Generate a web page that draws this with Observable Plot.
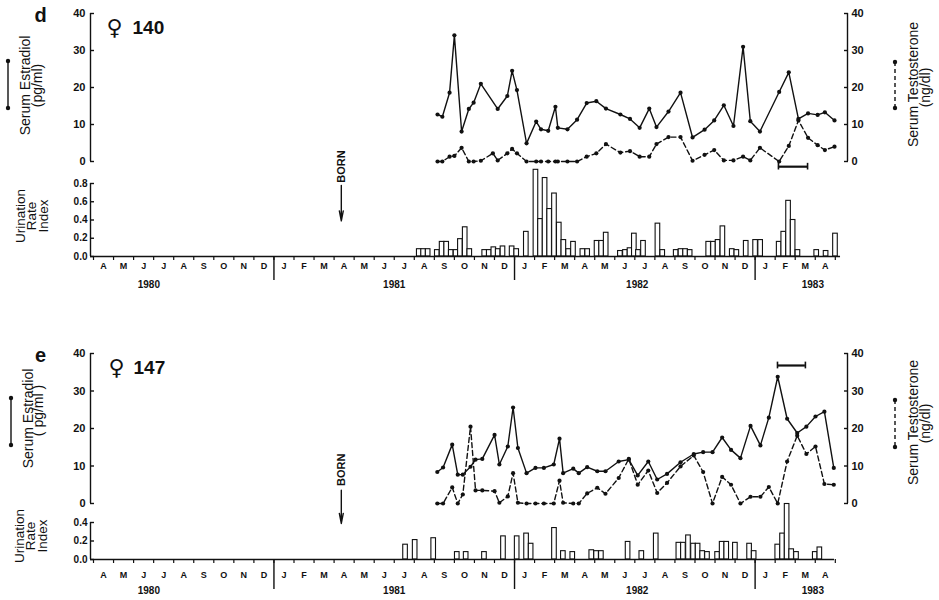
<!DOCTYPE html>
<html>
<head>
<meta charset="utf-8">
<script src="https://cdn.jsdelivr.net/npm/d3@7"></script>
<script src="https://cdn.jsdelivr.net/npm/@observablehq/plot@0.6"></script>
<style>
  body { margin: 0; background: #fff; }
  #wrap { position: relative; width: 939px; height: 600px; overflow: hidden; background: #fff; }
</style>
</head>
<body>
<div id="wrap"></div>
<script>
// ---------------- DATA ----------------
// Month letters on the time axis, April 1980 .. April 1983
const months = ["A","M","J","J","A","S","O","N","D","J","F","M","A","M","J","J","A","S","O","N","D",
                "J","F","M","A","M","J","J","A","S","O","N","D","J","F","M","A"];
const firstMonth = 1980.25;              // April 1980, decimal year
const yearLabels = ["1980", "1981", "1982", "1983"];
const yearLabelPos = [1980.48, 1981.5, 1982.51, 1983.24];
const yearBreaks = [1981, 1982, 1983];
const hormoneTicks = [0, 10, 20, 30, 40];
const birthDate = 1981.28;

// Panel d : female 140
const d_sampleDates = [1981.68,1981.70,1981.73,1981.75,1981.78,1981.81,1981.83,1981.86,1981.91,1981.93,
  1981.97,1981.99,1982.01,1982.05,1982.09,1982.11,1982.14,1982.17,1982.18,1982.22,1982.26,1982.30,
  1982.34,1982.38,1982.44,1982.48,1982.52,1982.56,1982.59,1982.64,1982.69,1982.74,1982.79,1982.83,
  1982.87,1982.91,1982.95,1982.98,1983.02,1983.10,1983.14,1983.18,1983.22,1983.26,1983.29,1983.33];
const d_estradiol = [12.7,12.1,18.6,34.1,8.1,14.2,15.9,21.0,null,14.2,17.7,24.5,19.3,4.9,10.8,8.7,8.3,
  14.8,9.1,8.7,11.3,15.8,16.3,14.3,12.7,11.5,9.1,14.3,9.3,13.5,18.6,6.5,8.6,11.1,15.2,9.6,31.0,10.9,
  8.1,18.8,24.1,11.5,13.0,12.6,13.3,11.1];
const d_testosterone = [0,0,1.3,1.5,3.7,0,0,0.2,2.2,0.3,2.2,3.4,2.2,0,0,0,0,0,0,0,0,1.3,2.2,4.7,2.4,
  2.8,1.3,1.3,4.7,6.6,6.6,0.2,1.8,3.1,0.3,0.3,1.3,0.3,3.7,0,4.2,11.1,6.4,4.4,3.1,4.0];
const d_urinationWeeks = [1981.604,1981.622,1981.641,1981.679,1981.699,1981.718,1981.737,1981.757,
  1981.775,1981.795,1981.814,1981.876,1981.895,1981.914,1981.932,1981.952,1981.990,1982.009,1982.049,
  1982.089,1982.108,1982.127,1982.146,1982.166,1982.186,1982.205,1982.225,1982.245,1982.284,1982.304,
  1982.343,1982.362,1982.381,1982.440,1982.461,1982.480,1982.498,1982.515,1982.536,1982.596,1982.616,
  1982.672,1982.692,1982.711,1982.730,1982.807,1982.827,1982.846,1982.866,1982.905,1982.924,1982.963,
  1983.002,1983.023,1983.100,1983.119,1983.139,1983.158,1983.178,1983.256,1983.295,1983.334];
const d_urinationIndex = [0.08,0.08,0.08,0.07,0.16,0.16,0.07,0.07,0.19,0.32,0.08,0.07,0.07,0.10,0.08,
  0.11,0.11,0.08,0.27,0.95,0.41,0.86,0.52,0.69,0.37,0.18,0.08,0.16,0.08,0.08,0.17,0.17,0.26,0.06,0.07,
  0.09,0.25,0.07,0.17,0.36,0.07,0.07,0.08,0.08,0.07,0.16,0.16,0.18,0.33,0.08,0.07,0.17,0.18,0.18,0.16,
  0.27,0.61,0.40,0.07,0.07,0.06,0.25];
const d_urinationTicks = [0, 0.2, 0.4, 0.6, 0.8];
const d_bracket = [1983.097, 1983.218];

// Panel e : female 147
const e_sampleDates = [1981.679,1981.703,1981.741,1981.764,1981.785,1981.817,1981.838,1981.866,1981.917,
  1981.937,1981.972,1981.994,1982.014,1982.050,1982.087,1982.122,1982.163,1982.187,1982.202,1982.244,
  1982.267,1982.302,1982.344,1982.378,1982.433,1982.475,1982.512,1982.556,1982.593,1982.634,1982.690,
  1982.745,1982.784,1982.823,1982.863,1982.900,1982.939,1982.981,1983.022,1983.057,1983.094,1983.133,
  1983.175,1983.213,1983.251,1983.288,1983.327];
const e_estradiol = [8.4,9.6,15.7,7.7,7.7,9.8,11.7,11.9,18.3,10.4,15.2,25.6,14.8,8.1,9.5,9.5,10.4,17.3,
  8.1,9.3,8.1,9.7,8.6,8.6,11.2,11.7,7.5,11.2,6.4,7.9,11.0,13.2,13.7,13.7,17.6,14.3,12.1,20.7,15.5,22.9,
  33.8,22.6,18.8,20.5,23.2,24.5,9.5];
const e_testosterone = [0,0,4.3,0,2.4,20.5,3.5,3.5,3.3,0.2,1.9,8.1,0.2,0,0,0,0,6.1,0.2,0,0,2.7,4.2,2.6,
  6.8,11.9,5.0,8.8,2.8,5.5,9.9,12.8,8.4,0,7.1,5.0,0,1.8,1.8,4.4,0,11.2,18.1,13.2,15.2,5.2,5.0];
const e_urinationWeeks = [1981.547,1981.587,1981.664,1981.762,1981.799,1981.875,1981.954,1982.011,
  1982.050,1982.069,1982.166,1982.203,1982.242,1982.321,1982.341,1982.361,1982.472,1982.529,1982.589,
  1982.683,1982.702,1982.723,1982.744,1982.763,1982.782,1982.802,1982.844,1982.863,1982.882,1982.918,
  1982.977,1982.996,1983.094,1983.114,1983.133,1983.152,1983.172,1983.250,1983.269];
const e_urinationIndex = [0.16,0.21,0.23,0.08,0.08,0.08,0.25,0.25,0.28,0.17,0.34,0.09,0.08,0.10,0.09,
  0.09,0.19,0.09,0.28,0.18,0.18,0.26,0.17,0.17,0.09,0.08,0.08,0.19,0.19,0.18,0.17,0.09,0.16,0.28,0.60,
  0.11,0.08,0.08,0.13];
const e_urinationTicks = [0, 0.2, 0.4];
const e_bracket = [1983.093, 1983.209];

// ---------------- DRAWING ----------------
const FONT = "'Liberation Sans', Arial, Helvetica, 'DejaVu Sans', sans-serif";
const X_DOMAIN = [1980.2375, 1983.384];
const HALF_WEEK = 3.5 / 365.25;
const INK = "#111";
const wrap = document.getElementById("wrap");

const monthStarts = d3.range(months.length + 1).map(i => firstMonth + i / 12);
const monthRows = months.map((m, i) => ({m, c: firstMonth + (i + 0.5) / 12}));
const yearRows = yearLabels.map((y, i) => ({y, p: yearLabelPos[i]}));

function svgStyle(top) {
  return {position: "absolute", left: "0px", top: top + "px", background: "transparent",
          overflow: "visible", fontFamily: FONT, fontSize: "11px", color: INK};
}

// frame-anchored label helper (always centred on its anchor point)
function label(str, frameAnchor, o) {
  return Plot.text([str], Object.assign({text: d => d, frameAnchor, textAnchor: "middle",
    lineAnchor: "middle", fill: INK}, o));
}

function panel(c) {
  const E = c.dates.map((t, i) => ({t, v: c.estradiol[i]})).filter(d => d.v != null);
  const T = c.dates.map((t, i) => ({t, v: c.testosterone[i]})).filter(d => d.v != null);
  const B = c.weeks.map((t, i) => ({t, v: c.index[i]}));

  const upper = Plot.plot({
    width: 939, height: 175,
    marginLeft: 90, marginRight: 92, marginTop: 13, marginBottom: c.upperMB,
    x: {domain: X_DOMAIN, axis: null},
    y: {domain: [0, 40], label: null},
    style: svgStyle(c.upperTop),
    marks: [
      Plot.ruleX([X_DOMAIN[0]], {y1: 0, y2: 40, stroke: INK, strokeWidth: 1.4}),
      Plot.ruleX([X_DOMAIN[1]], {y1: 0, y2: 40, stroke: INK, strokeWidth: 1.4}),
      Plot.axisY({anchor: "left", ticks: hormoneTicks, tickSize: -4, tickPadding: 9, label: null,
                  fontSize: 11, fontWeight: "bold", strokeWidth: 1.4}),
      Plot.axisY({anchor: "right", ticks: hormoneTicks, tickSize: -4, tickPadding: 8, label: null,
                  fontSize: 11, fontWeight: "bold", strokeWidth: 1.4}),
      Plot.line(E, {x: "t", y: "v", stroke: INK, strokeWidth: 1.4}),
      Plot.dot(E, {x: "t", y: "v", r: 2.1, fill: INK}),
      Plot.line(T, {x: "t", y: "v", stroke: INK, strokeWidth: 1.4, strokeDasharray: "5,3"}),
      Plot.dot(T, {x: "t", y: "v", r: 2.1, fill: INK}),
      // bracket
      Plot.ruleY([c.bracket], {x1: d => d[0], x2: d => d[1], y: c.bracketY, stroke: INK, strokeWidth: 2.2}),
      Plot.ruleX(c.bracket, {x: d => d, y1: c.bracketY - 0.9, y2: c.bracketY + 0.9, stroke: INK, strokeWidth: 1.6}),
      // labels
      label(c.letter, "top-left", {dx: -50, dy: c.letterDy, fontSize: 20, fontWeight: "bold"}),
      label("♀", "top-left", {dx: c.venusDx, dy: 14, fontSize: 22, fontWeight: "bold",
                               fontFamily: "'DejaVu Sans', sans-serif"}),
      label(c.animal, "top-left", {textAnchor: "start", dx: c.animalDx, dy: 14, fontSize: 19, fontWeight: "bold"}),
      label("Serum Estradiol", "left", {rotate: -90, dx: c.estDx, dy: c.estDy, fontSize: 14}),
      label(c.pgLabel, "left", {rotate: -90, dx: c.pgDx, dy: c.pgDy, fontSize: 14}),
      label("Serum Testosterone", "right", {rotate: -90, dx: 66, dy: c.testDy, fontSize: 14}),
      label("(ng/dl)", "right", {rotate: -90, dx: 78, dy: c.ngDy, fontSize: 14})
    ]
  });
  wrap.appendChild(upper);

  const lower = Plot.plot({
    width: 939, height: c.lowerH,
    marginLeft: 90, marginRight: 92, marginTop: c.lowerMT, marginBottom: c.lowerMB,
    x: {domain: X_DOMAIN, label: null},
    y: {domain: [0, c.urMax], label: null},
    style: svgStyle(c.lowerTop),
    marks: [
      Plot.ruleX([X_DOMAIN[0]], {y1: 0, y2: c.urMax, stroke: INK, strokeWidth: 1.4}),
      Plot.axisY({anchor: "left", ticks: c.urTicks, tickFormat: d3.format(".1f"), tickSize: -4,
                  tickPadding: 7, label: null, fontSize: 10, fontWeight: "bold", strokeWidth: 1.4}),
      Plot.rect(B, {x1: d => d.t - HALF_WEEK, x2: d => d.t + HALF_WEEK, y1: 0, y2: "v",
                    fill: "white", stroke: INK, strokeWidth: 1.1}),
      Plot.ruleY([0], {x1: X_DOMAIN[0], x2: c.baseEnd, stroke: INK, strokeWidth: 1.4}),
      Plot.axisX({ticks: monthStarts, tickSize: 4, tickFormat: () => "", label: null, strokeWidth: 1.2}),
      Plot.axisX({ticks: yearBreaks, tickSize: c.dividerLen, tickFormat: () => "", label: null, strokeWidth: 1.4}),
      Plot.text(monthRows, {x: "c", text: "m", frameAnchor: "bottom", dy: c.monthDy,
                 fontSize: 9, fontWeight: "bold", fill: INK}),
      Plot.text(yearRows, {x: "p", text: "y", frameAnchor: "bottom", dy: c.yearDy,
                 fontSize: 10, fontWeight: "bold", fill: INK}),
      Plot.text(["BORN"], {text: d => d, x: birthDate, y: c.bornY, rotate: -90,
                 fontSize: 11, fontWeight: "bold", fill: INK}),
      Plot.arrow([birthDate], {x1: d => d, x2: d => d, y1: c.arrowY1, y2: c.arrowY2,
                 stroke: INK, strokeWidth: 1.4, headLength: 11, headAngle: 22}),
      label("Urination\nRate\nIndex", "left", {rotate: -90, dx: c.urDx, dy: c.urDy, fontSize: 13.5, lineHeight: 0.86})
    ]
  });
  wrap.appendChild(lower);
}

panel({
  letter: "d", letterDy: 2, animal: "140", venusDx: 24, animalDx: 42,
  dates: d_sampleDates, estradiol: d_estradiol, testosterone: d_testosterone,
  weeks: d_urinationWeeks, index: d_urinationIndex, urTicks: d_urinationTicks, urMax: 0.8,
  bracket: d_bracket, bracketY: -1.4,
  upperTop: 0, upperMB: 14,
  estDx: -65, estDy: -2, pgLabel: "(pg/ml)", pgDx: -53, pgDy: -2, testDy: -3, ngDy: 0,
  lowerTop: 160, lowerH: 140, lowerMT: 23, lowerMB: 44,
  monthDy: 12, yearDy: 31, dividerLen: 24,
  bornY: 0.986, arrowY1: 0.78, arrowY2: 0.39, baseEnd: 1983.355,
  urDx: -58, urDy: -4
});

panel({
  letter: "e", letterDy: 2, animal: "147", venusDx: 26, animalDx: 43,
  dates: e_sampleDates, estradiol: e_estradiol, testosterone: e_testosterone,
  weeks: e_urinationWeeks, index: e_urinationIndex, urTicks: e_urinationTicks, urMax: 0.4,
  bracket: e_bracket, bracketY: 36.8,
  upperTop: 340, upperMB: 12,
  estDx: -62, estDy: -10, pgLabel: "( pg/ml )", pgDx: -52, pgDy: -18, testDy: -6, ngDy: -5,
  lowerTop: 440, lowerH: 160, lowerMT: 82, lowerMB: 41,
  monthDy: 18, yearDy: 34, dividerLen: 30,
  bornY: 0.97, arrowY1: 0.75, arrowY2: 0.39, baseEnd: 1983.33,
  urDx: -59, urDy: -5
});

// Legend glyphs beside the axis titles (solid = estradiol, dashed = testosterone)
const glyphs = [
  {x: 8, y1: 61, y2: 108, dash: null},
  {x: 895, y1: 62, y2: 108, dash: "4,3"},
  {x: 11, y1: 398, y2: 445, dash: null},
  {x: 895, y1: 400, y2: 447, dash: "4,3"}
];
const leg = d3.create("svg").attr("width", 939).attr("height", 600)
  .style("position", "absolute").style("left", "0px").style("top", "0px");
for (const g of glyphs) {
  leg.append("line").attr("x1", g.x).attr("x2", g.x).attr("y1", g.y1).attr("y2", g.y2)
    .attr("stroke", INK).attr("stroke-width", 1.4).attr("stroke-dasharray", g.dash);
  leg.append("circle").attr("cx", g.x).attr("cy", g.y1).attr("r", 2.2).attr("fill", INK);
  leg.append("circle").attr("cx", g.x).attr("cy", g.y2).attr("r", 2.2).attr("fill", INK);
}
wrap.appendChild(leg.node());
</script>
</body>
</html>
